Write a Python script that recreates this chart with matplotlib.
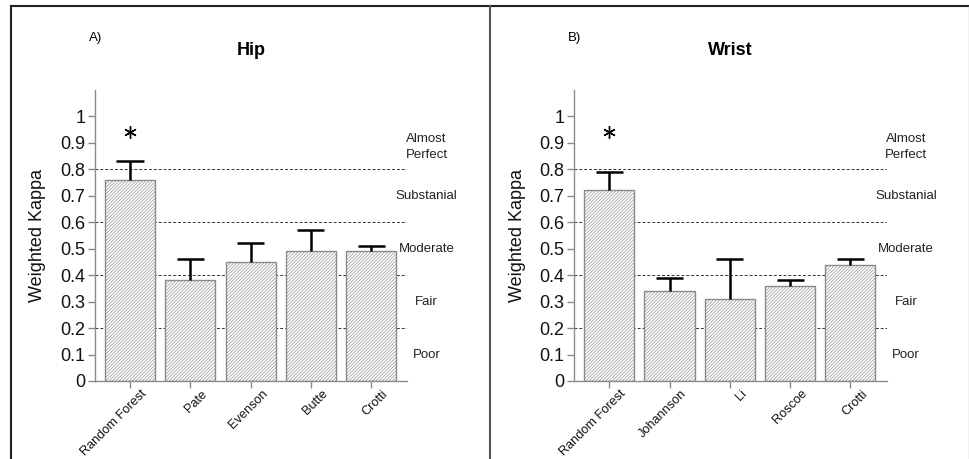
import matplotlib
matplotlib.use("Agg")
import matplotlib.pyplot as plt
from matplotlib.lines import Line2D
from matplotlib.transforms import ScaledTranslation

plt.rcParams['font.family'] = ['Liberation Sans', 'DejaVu Sans']
plt.rcParams['hatch.color'] = '#909090'
plt.rcParams['hatch.linewidth'] = 0.45

hip_labels = ["Random Forest", "Pate", "Evenson", "Butte", "Crotti"]
hip_values = [0.76, 0.38, 0.45, 0.49, 0.49]
hip_upper = [0.07, 0.08, 0.07, 0.08, 0.02]

wrist_labels = ["Random Forest", "Johannson", "Li", "Roscoe", "Crotti"]
wrist_values = [0.72, 0.34, 0.31, 0.36, 0.44]
wrist_upper = [0.07, 0.05, 0.15, 0.02, 0.02]

star_y = 0.94
thresholds = [0.2, 0.4, 0.6, 0.8]
zone_labels = ["Poor", "Fair", "Moderate", "Substanial", "Almost\nPerfect"]
zone_y = [0.1, 0.3, 0.5, 0.7, 0.885]
yticks = [0, 0.1, 0.2, 0.3, 0.4, 0.5, 0.6, 0.7, 0.8, 0.9, 1]
ytick_labels = ["0", "0.1", "0.2", "0.3", "0.4", "0.5", "0.6", "0.7", "0.8", "0.9", "1"]

fig = plt.figure(figsize=(9.7, 4.59), dpi=100)

def panel(rect, labels, values, upper, title, letter):
    ax = fig.add_axes(rect)
    x = list(range(len(labels)))
    ax.bar(x, values, width=0.83, color='white', edgecolor='#8a8a8a',
           linewidth=1.0, hatch='//////////', zorder=2)
    tops = [v + u for v, u in zip(values, upper)]
    ax.vlines(x, values, tops, color='black', lw=1.8, zorder=3)
    ax.hlines(tops, [xi - 0.225 for xi in x], [xi + 0.225 for xi in x],
              color='black', lw=1.8, zorder=3)
    ax.plot([0], [star_y], marker=(6, 2, 0), ms=9, color='black', mew=1.0, ls='none')
    for t in thresholds:
        ax.axhline(t, color='#333333', lw=0.7, ls=(0, (3, 2)), zorder=1)
    for lab, yy in zip(zone_labels, zone_y):
        ax.text(4.92, yy, lab, ha='center', va='center', fontsize=9.5,
                color='#222222', clip_on=False, linespacing=1.4)
    ax.set_xlim(-0.58, 4.6)
    ax.set_ylim(0, 1.1)
    ax.set_yticks(yticks)
    ax.set_yticklabels(ytick_labels)
    ax.set_xticks(x)
    ax.set_xticklabels([''] * len(x))
    trans = ax.get_xaxis_transform() + ScaledTranslation(0.15, -0.11, fig.dpi_scale_trans)
    for xi, lab in zip(x, labels):
        ax.text(xi, 0, lab, transform=trans, rotation=45, ha='right', va='center',
                rotation_mode='anchor', fontsize=9.2, color='#111111', clip_on=False)
    for s in ['top', 'right']:
        ax.spines[s].set_visible(False)
    for s in ['left', 'bottom']:
        ax.spines[s].set_color('#8a8a8a')
        ax.spines[s].set_linewidth(1.0)
    ax.tick_params(axis='y', colors='#8a8a8a', labelcolor='#111111', labelsize=13,
                   length=5, width=1.0, direction='out', pad=2)
    ax.tick_params(axis='x', colors='#8a8a8a', length=5, width=1.0, direction='out')
    ax.set_ylabel("Weighted Kappa", fontsize=13, color='#111111', labelpad=10)
    ax.set_title(title, fontsize=13, fontweight='bold', pad=0, y=1.12)
    ax.text(-0.02, 1.18, letter, transform=ax.transAxes, fontsize=9.5, ha='left', va='center')
    return ax

panel([0.098, 0.170, 0.322, 0.634], hip_labels, hip_values, hip_upper, "Hip", "A)")
panel([0.592, 0.170, 0.322, 0.634], wrist_labels, wrist_values, wrist_upper, "Wrist", "B)")

# panel frame lines
fig.add_artist(Line2D([0.0113, 1.0], [1 - 6 / 459, 1 - 6 / 459], transform=fig.transFigure, color='#222222', lw=1.5))
fig.add_artist(Line2D([0.0113, 0.0113], [0, 1 - 6 / 459], transform=fig.transFigure, color='#222222', lw=1.5))
fig.add_artist(Line2D([490 / 970, 490 / 970], [0, 1 - 6 / 459], transform=fig.transFigure, color='#555555', lw=1.5))
fig.add_artist(Line2D([969 / 970, 969 / 970], [0, 1 - 6 / 459], transform=fig.transFigure, color='#bbbbbb', lw=1.0))

fig.savefig("out.png", dpi=100)
